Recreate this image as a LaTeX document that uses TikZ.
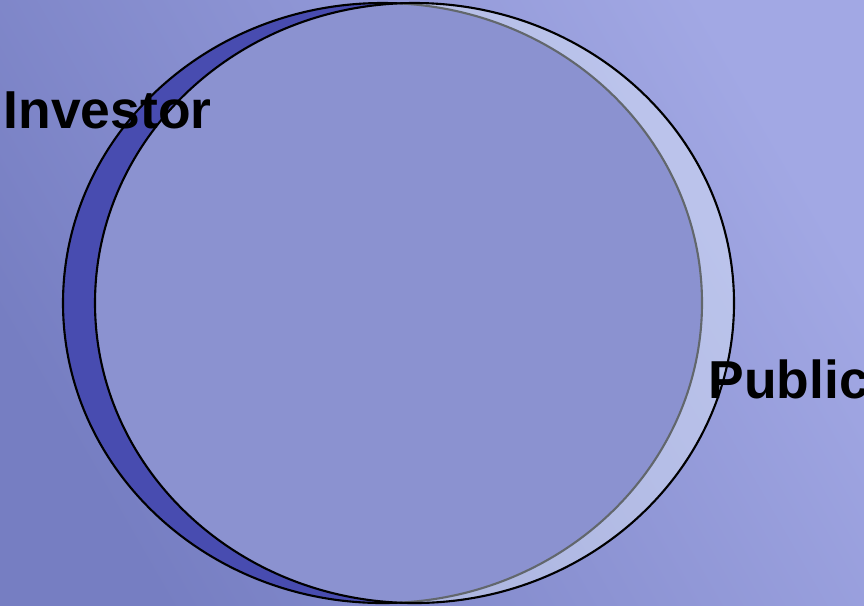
\documentclass[tikz,border=0pt]{standalone}
\usepackage{fontspec}
\setmainfont{Liberation Sans}
\usepackage{tikz}
\usetikzlibrary{positioning}
\definecolor{crescent}{HTML}{484CB0}
\definecolor{haze}{HTML}{E4EFFB}
\definecolor{bgleft}{HTML}{767EC2}
\definecolor{bgright}{HTML}{A2A8E4}

\begin{document}
\begin{tikzpicture}[
    ring/.style={draw=black, line width=0.6pt},
    tag/.style={font=\bfseries\fontsize{15.2}{18}\selectfont, inner sep=0pt, anchor=base west}]
    \shade[shading=axis, bottom color=bgleft, top color=bgright, shading angle=-60] (0,0) rectangle (8.64,6.05);
    \useasboundingbox (0,0) rectangle (8.64,6.05);
    % investor ring, then public ring on top
    \draw[ring, fill=crescent] (3.825,3.02) ellipse [x radius=3.195, y radius=3.0];
    \draw[ring, fill=haze, fill opacity=0.43] (4.145,3.02) ellipse [x radius=3.195, y radius=3.0];
    \node[tag] (investor) at (0.03,4.77) {Investor};
    \node[tag] (public) at (7.08,2.07) {Public};
\end{tikzpicture}
\end{document}
